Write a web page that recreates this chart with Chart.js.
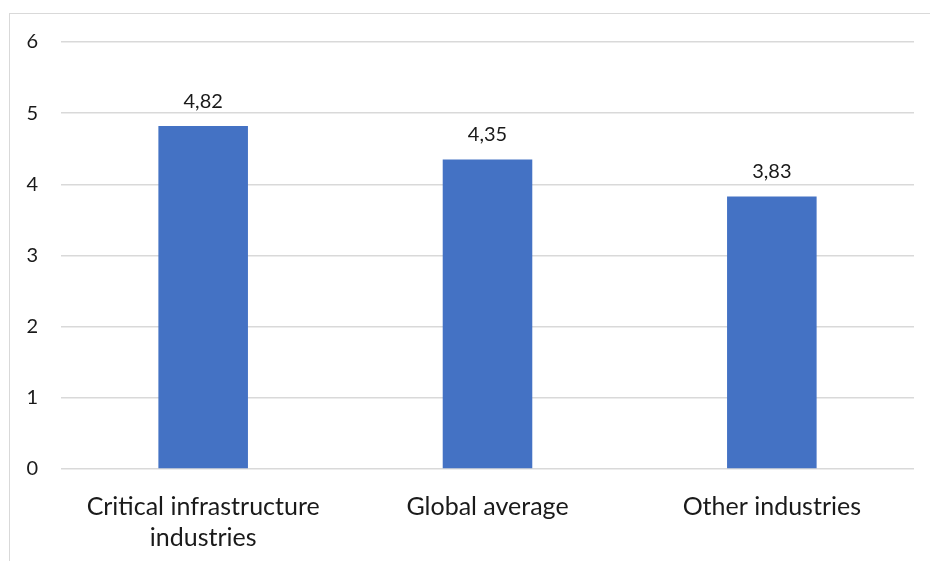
<!DOCTYPE html>
<html>
<head>
<meta charset="utf-8">
<script src="https://cdn.jsdelivr.net/npm/chart.js@4.4.1/dist/chart.umd.min.js"></script>
<style>
  html, body { margin: 0; padding: 0; background: #fff; }
  #wrap { position: relative; width: 930px; height: 561px; overflow: hidden; }
  #frame {
    position: absolute; left: 9px; top: 13px; width: 940px; height: 560px;
    border: 1.5px solid #d9d9d9; box-sizing: border-box;
  }
  canvas { position: absolute; left: 0; top: 0; }
</style>
</head>
<body>
<div id="wrap">
  <div id="frame"></div>
  <canvas id="chart" width="930" height="561"></canvas>
</div>
<script>
// chart data
const categories = [
  ["Critical infrastructure", "industries"],
  "Global average",
  "Other industries"
];
const values = [4.82, 4.35, 3.83];
const yTicks = [0, 1, 2, 3, 4, 5, 6];

const FONT = "Lato, 'Liberation Sans', sans-serif";
const TEXT = "#1a1a1a";

// value labels above each bar, decimal comma like the original
const barLabels = {
  id: "barLabels",
  afterDatasetsDraw(chart) {
    const ctx = chart.ctx;
    const meta = chart.getDatasetMeta(0);
    ctx.save();
    ctx.fillStyle = TEXT;
    ctx.font = "20px " + FONT;
    ctx.textAlign = "center";
    ctx.textBaseline = "alphabetic";
    meta.data.forEach((bar, i) => {
      const txt = values[i].toFixed(2).replace(".", ",");
      ctx.fillText(txt, bar.x, bar.y - 18);
    });
    ctx.restore();
  }
};

new Chart(document.getElementById("chart").getContext("2d"), {
  type: "bar",
  data: {
    labels: categories,
    datasets: [{
      data: values,
      backgroundColor: "#4472c4",
      borderWidth: 0,
      categoryPercentage: 1,
      barPercentage: 0.315
    }]
  },
  options: {
    responsive: false,
    animation: false,
    layout: { padding: { top: 42, right: 16, left: 0, bottom: 0 } },
    plugins: { legend: { display: false }, tooltip: { enabled: false } },
    scales: {
      y: {
        min: 0,
        max: 6,
        afterBuildTicks(scale) {
          scale.ticks = yTicks.map((v) => ({ value: v }));
        },
        afterFit(scale) { scale.width = 61; },
        border: { display: false },
        grid: { color: "#d9d9d9", lineWidth: 1.5, drawTicks: false },
        ticks: {
          padding: 23,
          color: TEXT,
          font: { family: FONT, size: 20 }
        }
      },
      x: {
        afterFit(scale) { scale.height = 92; },
        border: { display: false },
        grid: { display: false, drawTicks: false },
        ticks: {
          padding: 22,
          maxRotation: 0,
          autoSkip: false,
          color: TEXT,
          font: { family: FONT, size: 25, lineHeight: "31px" }
        }
      }
    }
  },
  plugins: [barLabels]
});
</script>
</body>
</html>
